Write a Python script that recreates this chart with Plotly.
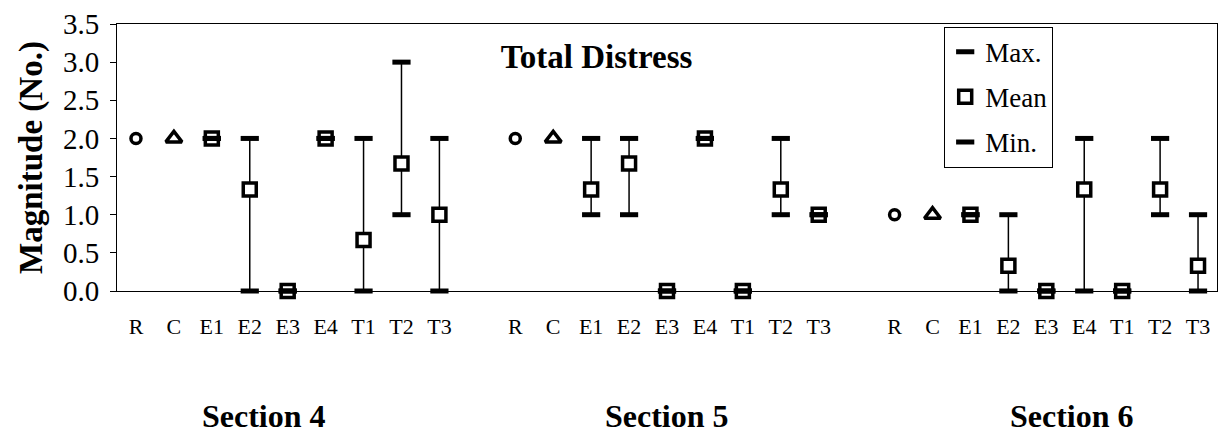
# Total distress magnitude by section and treatment (max / mean / min)

import plotly.graph_objects as go

sections = ["Section 4", "Section 5", "Section 6"]
treatments = ["R", "C", "E1", "E2", "E3", "E4", "T1", "T2", "T3"]

# single observations for the reference (R) and control (C) sites
r_values = [2, 2, 1]
c_values = [2, 2, 1]

# E1, E2, E3, E4, T1, T2, T3 for each section
max_s4 = [2, 2, 0, 2, 2, 3, 2]
mean_s4 = [2, 1.33, 0, 2, 0.67, 1.67, 1.0]
min_s4 = [2, 0, 0, 2, 0, 1, 0]

max_s5 = [2, 2, 0, 2, 0, 2, 1]
mean_s5 = [1.33, 1.67, 0, 2, 0, 1.33, 1]
min_s5 = [1, 1, 0, 2, 0, 1, 1]

max_s6 = [1, 1, 0, 2, 0, 2, 1]
mean_s6 = [1, 0.33, 0, 1.33, 0, 1.33, 0.33]
min_s6 = [1, 0, 0, 0, 0, 1, 0]

max_all = [max_s4, max_s5, max_s6]
mean_all = [mean_s4, mean_s5, mean_s6]
min_all = [min_s4, min_s5, min_s6]

SERIF = "Liberation Serif"
GAP = len(treatments) + 1  # one empty slot between sections

# x positions: each section gets its own block of slots
tick_pos, tick_text = [], []
for s in range(len(sections)):
    for t, name in enumerate(treatments):
        tick_pos.append(s * GAP + t)
        tick_text.append(name)

r_x = [s * GAP + 0 for s in range(len(sections))]
c_x = [s * GAP + 1 for s in range(len(sections))]
e_x, e_max, e_mean, e_min = [], [], [], []
for s in range(len(sections)):
    for k in range(len(max_all[s])):
        e_x.append(s * GAP + 2 + k)
        e_max.append(max_all[s][k])
        e_mean.append(mean_all[s][k])
        e_min.append(min_all[s][k])

fig = go.Figure()

fig.add_trace(go.Scatter(
    x=r_x, y=r_values, mode="markers", showlegend=False, cliponaxis=False,
    marker=dict(symbol="circle", size=10, color="white",
                line=dict(color="black", width=3.5))
))
fig.add_trace(go.Scatter(
    x=c_x, y=c_values, mode="markers", showlegend=False, cliponaxis=False,
    marker=dict(symbol="triangle-up", size=14, color="white",
                line=dict(color="black", width=3.5))
))

# mean with vertical range line
fig.add_trace(go.Scatter(
    x=e_x, y=e_mean, mode="markers", name="Mean", cliponaxis=False,
    legendrank=2, legendgroup="mean",
    error_y=dict(type="data", symmetric=False,
                 array=[mx - m for mx, m in zip(e_max, e_mean)],
                 arrayminus=[m - mn for m, mn in zip(e_mean, e_min)],
                 width=0, thickness=1.5, color="black"),
    marker=dict(symbol="square", size=13, color="white",
                line=dict(color="black", width=3.5))
))
fig.add_trace(go.Scatter(
    x=e_x, y=e_max, mode="markers", name="Max.", cliponaxis=False,
    legendrank=1, legendgroup="max",
    marker=dict(symbol="line-ew", size=13, color="black",
                line=dict(color="black", width=5))
))
fig.add_trace(go.Scatter(
    x=e_x, y=e_min, mode="markers", name="Min.", cliponaxis=False,
    legendrank=3, legendgroup="min",
    marker=dict(symbol="line-ew", size=13, color="black",
                line=dict(color="black", width=5))
))

section_x = [0.134, 0.5, 0.868]
for label, sx in zip(sections, section_x):
    fig.add_annotation(
        text=label, xref="paper", yref="paper", x=sx, y=-0.47,
        showarrow=False, xanchor="center", yanchor="middle",
        font=dict(family=SERIF, size=32, color="black", weight="bold")
    )

fig.update_layout(
    width=1226,
    height=441,
    plot_bgcolor="white",
    paper_bgcolor="white",
    margin=dict(l=117, r=8, t=19, b=150),
    font=dict(family=SERIF, color="black"),
    title=dict(
        text="Total Distress",
        font=dict(family=SERIF, size=33, color="black", weight="bold"),
        xref="paper", x=0.436, xanchor="center",
        y=0.873, yanchor="middle"
    ),
    legend=dict(
        x=0.752, y=0.99, xanchor="left", yanchor="top",
        bgcolor="white", bordercolor="black", borderwidth=1,
        font=dict(family=SERIF, size=27, color="black"),
        traceorder="grouped", tracegroupgap=7
    ),
    xaxis=dict(
        range=[-0.5, 28.5],
        tickmode="array", tickvals=tick_pos, ticktext=tick_text,
        ticks="", showgrid=False, zeroline=False,
        showline=True, linecolor="black", linewidth=1, mirror=True,
        tickfont=dict(family=SERIF, size=22, color="black"),
        ticklabelstandoff=16
    ),
    yaxis=dict(
        range=[0, 3.5], dtick=0.5, tickformat=".1f",
        ticks="outside", ticklen=6, tickcolor="black",
        showgrid=False, zeroline=False,
        showline=True, linecolor="black", linewidth=1, mirror=True,
        tickfont=dict(family=SERIF, size=29, color="black"),
        ticklabelstandoff=5,
        title=dict(text="Magnitude (No.)", standoff=10,
                   font=dict(family=SERIF, size=33, color="black", weight="bold"))
    )
)

# the page body has a default 8px margin; drop it so the figure sits at 0,0
fig.write_html("out.html", config={"displayModeBar": False},
               post_script="document.body.style.margin='0';")
